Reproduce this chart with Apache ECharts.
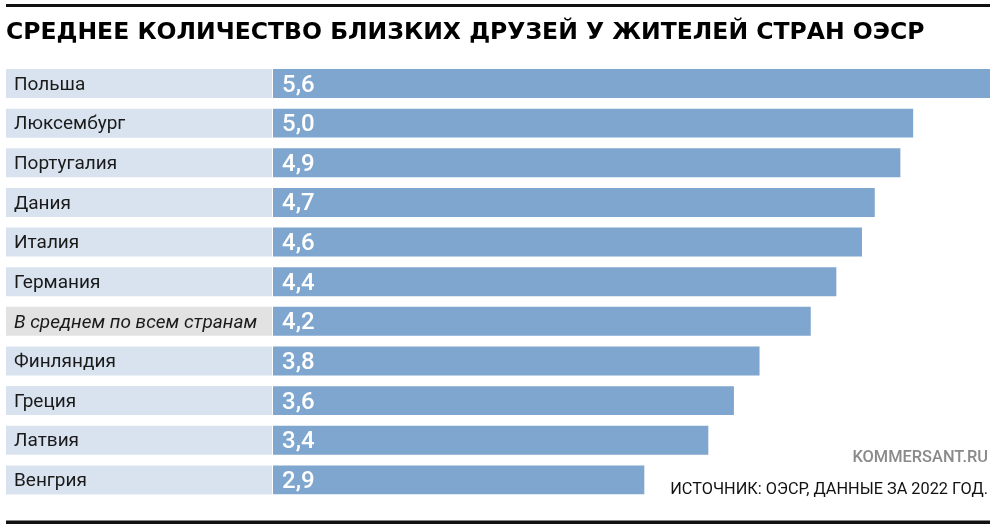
<!DOCTYPE html>
<html>
<head>
<meta charset="utf-8">
<script src="https://cdn.jsdelivr.net/npm/echarts@6/dist/echarts.min.js"></script>
<style>
  html, body { margin: 0; padding: 0; background: #fff; }
  #chart { width: 1000px; height: 532px; }
</style>
</head>
<body>
<div id="chart"></div>
<script>
var chart = echarts.init(document.getElementById('chart'));

var titleText = 'СРЕДНЕЕ КОЛИЧЕСТВО БЛИЗКИХ ДРУЗЕЙ У ЖИТЕЛЕЙ СТРАН ОЭСР';
var sourceText = 'ИСТОЧНИК: ОЭСР, ДАННЫЕ ЗА 2022 ГОД.';
var brandText = 'KOMMERSANT.RU';

var countries = ['Польша', 'Люксембург', 'Португалия', 'Дания', 'Италия', 'Германия',
    'В среднем по всем странам', 'Финляндия', 'Греция', 'Латвия', 'Венгрия'];
var friends = [5.6, 5.0, 4.9, 4.7, 4.6, 4.4, 4.2, 3.8, 3.6, 3.4, 2.9];
var averageLabel = 'В среднем по всем странам';

var barColor = '#7fa6ce';
var labelBg = '#d9e3ef';
var averageBg = '#e2e2e2';

// label cell: box from x=6 to x=272, text starts at x=14
var cellStyle = {
    width: 258,
    height: 26,
    lineHeight: 26,
    padding: [3, 0, 0, 8],
    align: 'left',
    fontFamily: 'Roboto',
    fontSize: 19,
    color: '#1a1a1a'
};

chart.setOption({
    backgroundColor: '#fff',
    animation: false,
    grid: {
        left: 273,
        right: 10,
        top: 63.7,
        bottom: 32.3,
        containLabel: false,
        outerBoundsMode: 'none'
    },
    xAxis: {
        type: 'value',
        min: 0,
        max: 5.6,
        show: false
    },
    yAxis: {
        type: 'category',
        inverse: true,
        data: countries,
        axisLine: {show: false},
        axisTick: {show: false},
        axisLabel: {
            margin: 1,
            formatter: function (v) {
                return v === averageLabel ? '{avg|' + v + '}' : '{std|' + v + '}';
            },
            rich: {
                std: Object.assign({}, cellStyle, {backgroundColor: labelBg}),
                avg: Object.assign({}, cellStyle, {backgroundColor: averageBg, fontStyle: 'italic'})
            }
        }
    },
    series: [{
        type: 'bar',
        data: friends,
        barCategoryGap: '27%',
        itemStyle: {color: barColor},
        label: {
            show: true,
            position: 'insideLeft',
            distance: 9,
            offset: [0, 2],
            color: '#fff',
            fontFamily: 'Roboto',
            fontWeight: 500,
            fontSize: 24,
            formatter: function (p) {
                return p.value.toFixed(1).replace('.', ',');
            }
        }
    }],
    graphic: [
        {
            type: 'rect',
            shape: {x: 6, y: 4, width: 984, height: 3},
            style: {fill: '#111'}
        },
        {
            type: 'text',
            x: 6,
            y: 33,
            style: {
                text: titleText,
                fontFamily: 'DejaVu Sans',
                fontWeight: 'bold',
                fontSize: 23.5,
                fill: '#000',
                verticalAlign: 'middle'
            }
        },
        {
            type: 'text',
            x: 988,
            y: 458,
            style: {
                text: brandText,
                fontFamily: 'Roboto',
                fontWeight: 500,
                fontSize: 16.4,
                fill: '#8a8a8a',
                align: 'right',
                verticalAlign: 'middle'
            }
        },
        {
            type: 'text',
            x: 988,
            y: 489.5,
            style: {
                text: sourceText,
                fontFamily: 'Roboto',
                fontSize: 16.3,
                fill: '#111',
                align: 'right',
                verticalAlign: 'middle'
            }
        },
        {
            type: 'rect',
            shape: {x: 6, y: 520.5, width: 984, height: 3.5},
            style: {fill: '#111'}
        }
    ]
});
</script>
</body>
</html>
